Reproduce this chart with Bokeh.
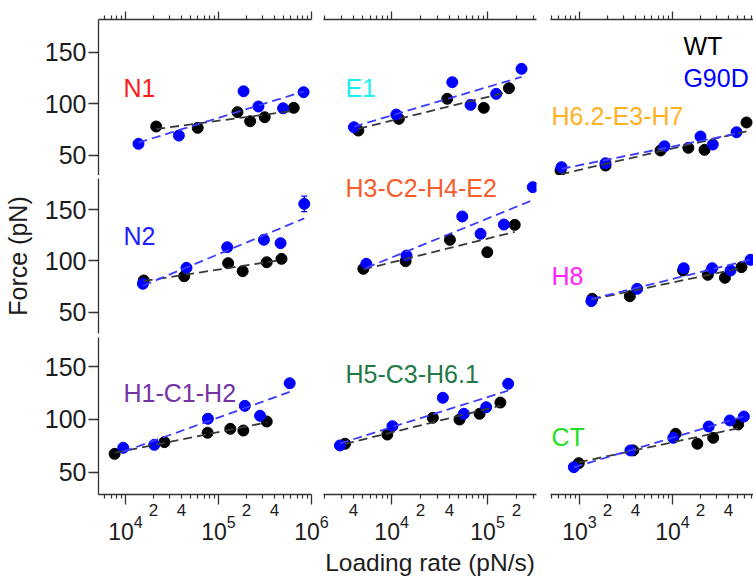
import numpy as np
from bokeh.plotting import figure
from bokeh.layouts import column, row
from bokeh.models import (LogAxis, LinearAxis, FixedTicker, CustomJSTickFormatter,
                          LogTickFormatter, Label, Whisker, ColumnDataSource, TeeHead)
from bokeh.embed import file_html
from bokeh.resources import INLINE

# ---------------- data: loading rate (pN/s) and force (pN) ----------------
N1_wt_rate = [21400, 59800, 160000, 219000, 314000, 644000]
N1_wt_force = [77.7, 76.4, 91.6, 82.8, 86.7, 95.8]
N1_mut_rate = [13800, 37500, 186000, 269000, 495000, 822000]
N1_mut_force = [60.9, 68.9, 111.9, 97.1, 95.4, 111.0]

E1_wt_rate = [4500, 11900, 38000, 91400, 167000]
E1_wt_force = [73.8, 85.1, 104.6, 95.8, 114.9]
E1_mut_rate = [4050, 11200, 42900, 66500, 123000, 226000]
E1_mut_force = [77.0, 89.3, 120.7, 98.7, 109.4, 133.7]

H62_wt_rate = [625, 1905, 7430, 14800, 22100, 62500]
H62_wt_force = [35.0, 39.8, 54.4, 57.0, 55.0, 81.6]
H62_mut_rate = [640, 1905, 8200, 20000, 27100, 48800]
H62_mut_force = [38.2, 42.0, 58.5, 68.0, 60.2, 72.1]

N2_wt_rate = [15700, 42800, 127000, 182000, 330000, 476000]
N2_wt_force = [81.1, 85.2, 97.9, 90.1, 98.8, 102.1]
N2_mut_rate = [15400, 45300, 124000, 308000, 465000, 836000]
N2_mut_force = [77.9, 93.4, 113.4, 120.6, 117.3, 155.5]
N2_mut_err = [0, 0, 0, 4, 0, 7.5]

H3_wt_rate = [5070, 14000, 40500, 99300, 192000]
H3_wt_force = [92.4, 99.8, 120.6, 108.5, 135.1]
H3_mut_rate = [5450, 14300, 54500, 84500, 148000, 296000]
H3_mut_force = [97.3, 105.3, 143.2, 126.4, 135.4, 171.7]
H3_mut_err = [0, 0, 0, 0, 0, 3]

H8_wt_rate = [1370, 3475, 13000, 24000, 36600, 55200]
H8_wt_force = [63.3, 65.8, 90.8, 86.6, 83.7, 94.0]
H8_mut_rate = [1340, 4170, 13200, 26700, 42100, 69000]
H8_mut_force = [61.0, 73.0, 93.0, 93.0, 90.8, 101.2]

H1_wt_rate = [7640, 26200, 76400, 134000, 185000, 330000]
H1_wt_force = [67.6, 78.6, 87.5, 91.2, 89.6, 98.1]
H1_mut_rate = [9460, 20400, 76900, 192000, 280000, 583000]
H1_mut_force = [73.3, 76.1, 100.7, 112.9, 103.5, 134.2]

H5_wt_rate = [3270, 9020, 26900, 51000, 82600, 136000]
H5_wt_force = [77.1, 85.8, 101.6, 100.0, 105.4, 116.0]
H5_mut_rate = [2890, 10200, 34200, 56600, 96800, 164000]
H5_mut_force = [75.5, 93.7, 120.5, 105.4, 111.6, 133.7]

CT_wt_rate = [982, 3780, 10800, 18500, 27400, 50800]
CT_wt_force = [58.8, 70.8, 86.5, 77.1, 82.7, 95.3]
CT_mut_rate = [869, 3530, 10200, 24500, 41300, 58500]
CT_mut_force = [55.0, 70.8, 82.7, 93.4, 99.1, 102.8]

panel_names = ["N1", "E1", "H6.2-E3-H7",
               "N2", "H3-C2-H4-E2", "H8",
               "H1-C1-H2", "H5-C3-H6.1", "CT"]
panel_colors = ["#FF1A1A", "#19F0F0", "#FFB21F",
                "#2020FF", "#F75C2C", "#FF22FF",
                "#7434A4", "#1F7A45", "#22E022"]

y_ticks = [50, 100, 150]
decades = [1e2, 1e3, 1e4, 1e5, 1e6, 1e7]
minor_mults = [2, 3, 4, 5, 6, 7, 8, 9]
labeled_minor = [[2e4, 4e4, 2e5, 4e5], [4e3, 2e4, 4e4, 2e5], [2e3, 4e3, 2e4, 4e4]]
series_names = ["WT", "G90D"]
x_title = "Loading rate (pN/s)"
y_title = "Force (pN)"

# ---------------- layout ----------------
FONT = "Liberation Sans"
AX = "#333333"
TXT = "#1c1c1c"
WT_COL = "#000000"
MUT_COL = "#0000FF"

x_ranges = [(10 ** 3.71, 1e6), (10 ** 3.29, 10 ** 5.51), (10 ** 2.688, 10 ** 4.871)]
y_ranges = [(30.1, 181.6), (29.6, 180.1), (29.2, 177.4)]
frame_w = [213, 213, 203]
border_lr = [(98, 6), (6, 8), (6, 0)]
frame_h = [156, 155, 157]
border_tb = [(19, 0), (3, 2), (2, 84)]
label_pos = [(9530, 115.5), (3300, 115.5), (500, 88.3),
             (9530, 124.7), (3300, 170.4), (500, 85.9),
             (9530, 125.4), (3300, 143.4), (500, 83.9)]
legend_pos = [(13100, 156.3), (13100, 125.2)]

data = [
    (N1_wt_rate, N1_wt_force, N1_mut_rate, N1_mut_force, None),
    (E1_wt_rate, E1_wt_force, E1_mut_rate, E1_mut_force, None),
    (H62_wt_rate, H62_wt_force, H62_mut_rate, H62_mut_force, None),
    (N2_wt_rate, N2_wt_force, N2_mut_rate, N2_mut_force, N2_mut_err),
    (H3_wt_rate, H3_wt_force, H3_mut_rate, H3_mut_force, H3_mut_err),
    (H8_wt_rate, H8_wt_force, H8_mut_rate, H8_mut_force, None),
    (H1_wt_rate, H1_wt_force, H1_mut_rate, H1_mut_force, None),
    (H5_wt_rate, H5_wt_force, H5_mut_rate, H5_mut_force, None),
    (CT_wt_rate, CT_wt_force, CT_mut_rate, CT_mut_force, None),
]

minor_ticks = [m * d for d in decades for m in minor_mults]
EMPTY = CustomJSTickFormatter(code="return '';")


def tick_axis(out_major, out_minor):
    return LogAxis(ticker=FixedTicker(ticks=decades, minor_ticks=minor_ticks),
                   formatter=EMPTY, major_label_text_font_size="0px",
                   major_label_standoff=0,
                   major_tick_in=0, major_tick_out=out_major,
                   minor_tick_in=0, minor_tick_out=out_minor,
                   axis_line_color=AX, major_tick_line_color=AX,
                   minor_tick_line_color=AX, axis_line_width=1.3,
                   major_tick_line_width=1.3, minor_tick_line_width=1.2)


def fit_line(rate, force):
    lx = np.log10(rate)
    k, b = np.polyfit(lx, force, 1)
    xs = np.array([min(rate), max(rate)], dtype=float)
    return xs, b + k * np.log10(xs)


def text_label(x, y, text, color):
    return Label(x=x, y=y, text=text, text_color=color,
                 text_font=FONT, text_font_size="25px",
                 text_align="left", text_baseline="alphabetic")


rows = []
for r in range(3):
    figs = []
    for c in range(3):
        i = r * 3 + c
        bl, br = border_lr[c]
        bt, bb = border_tb[r]
        margin = None
        if r == 2 and c == 0:
            br += 20
        if r == 2 and c == 1:
            margin = (0, 0, 0, -20)
        p = figure(width=bl + frame_w[c] + br, height=bt + frame_h[r] + bb,
                   x_axis_type="log", x_range=x_ranges[c], y_range=y_ranges[r],
                   output_backend="svg", toolbar_location=None,
                   x_axis_location=None, y_axis_location=None,
                   min_border_left=bl, min_border_right=br,
                   min_border_top=bt, min_border_bottom=bb,
                   background_fill_color=None, border_fill_color=None,
                   outline_line_color=None)
        if margin is not None:
            p.margin = margin
        p.grid.visible = False

        wr, wf, mr, mf, merr = data[i]
        p.scatter(wr, wf, size=11, marker="circle", color=WT_COL)
        p.scatter(mr, mf, size=11, marker="circle", color=MUT_COL)
        if merr is not None:
            idx = [j for j, e in enumerate(merr) if e > 0]
            src = ColumnDataSource(dict(x=[mr[j] for j in idx],
                                        lo=[mf[j] - merr[j] for j in idx],
                                        hi=[mf[j] + merr[j] for j in idx]))
            p.add_layout(Whisker(source=src, base="x", lower="lo", upper="hi",
                                 dimension="height", line_color=MUT_COL, line_width=1.3,
                                 upper_head=TeeHead(size=6, line_color=MUT_COL, line_width=1.3),
                                 lower_head=TeeHead(size=6, line_color=MUT_COL, line_width=1.3)))
        xs, ys = fit_line(wr, wf)
        p.line(xs, ys, line_color="#3a3a3a", line_width=1.8, line_dash="9 5")
        xs, ys = fit_line(mr, mf)
        p.line(xs, ys, line_color="#3c3cff", line_width=1.8, line_dash="9 5")

        lx, ly = label_pos[i]
        p.add_layout(text_label(lx, ly, panel_names[i], panel_colors[i]))

        if r == 0:
            p.add_layout(tick_axis(8, 4), "above")
        if c == 0:
            ya = LinearAxis(ticker=FixedTicker(ticks=y_ticks, minor_ticks=[]),
                            major_tick_in=0, major_tick_out=10,
                            minor_tick_out=0, minor_tick_in=0,
                            major_label_standoff=2,
                            major_label_text_font=FONT,
                            major_label_text_font_size="25px",
                            major_label_text_color=TXT,
                            axis_line_color=AX, major_tick_line_color=AX,
                            axis_line_width=1.3, major_tick_line_width=1.3)
            if r == 1:
                ya.axis_label = y_title
                ya.axis_label_text_font = FONT
                ya.axis_label_text_font_size = "25px"
                ya.axis_label_text_font_style = "normal"
                ya.axis_label_text_color = TXT
                ya.axis_label_standoff = 10
            p.add_layout(ya, "left")
        if r == 2:
            p.add_layout(tick_axis(10, 4), "below")
            ab = LogAxis(ticker=FixedTicker(ticks=labeled_minor[c], minor_ticks=[]),
                         formatter=CustomJSTickFormatter(code="""
                             const e = Math.floor(Math.log10(tick) + 1e-9);
                             return (tick / Math.pow(10, e)).toFixed(0);"""),
                         axis_line_color=None, major_tick_line_color=None,
                         minor_tick_line_color=None, major_tick_out=0, major_tick_in=0,
                         minor_tick_out=0, minor_tick_in=0,
                         major_label_standoff=-1, major_label_text_font=FONT,
                         major_label_text_font_size="17px", major_label_text_color=TXT)
            p.add_layout(ab, "below")
            ac = LogAxis(ticker=FixedTicker(ticks=decades, minor_ticks=[]),
                         formatter=LogTickFormatter(),
                         axis_line_color=None, major_tick_line_color=None,
                         minor_tick_line_color=None, major_tick_out=0, major_tick_in=0,
                         minor_tick_out=0, minor_tick_in=0,
                         major_label_standoff=-4, major_label_text_font=FONT,
                         major_label_text_font_size="23px", major_label_text_color=TXT)
            if c == 1:
                ac.axis_label = x_title
                ac.axis_label_text_font = FONT
                ac.axis_label_text_font_size = "24.5px"
                ac.axis_label_text_font_style = "normal"
                ac.axis_label_text_color = TXT
                ac.axis_label_standoff = 6
            p.add_layout(ac, "below")
        if r == 0 and c == 2:
            p.add_layout(text_label(legend_pos[0][0], legend_pos[0][1], series_names[0], WT_COL))
            p.add_layout(text_label(legend_pos[1][0], legend_pos[1][1], series_names[1], MUT_COL))
        figs.append(p)
    rows.append(row(*figs))

layout = column(*rows)
open("out.html", "w").write(file_html(layout, INLINE))
